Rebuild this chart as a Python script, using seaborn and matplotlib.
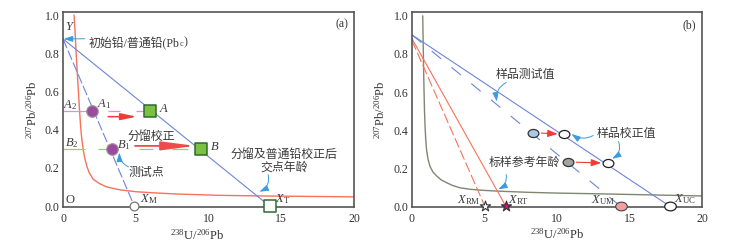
import matplotlib
matplotlib.use("Agg")
import matplotlib.pyplot as plt
import seaborn as sns
from matplotlib.path import Path
from matplotlib.markers import MarkerStyle
from matplotlib.transforms import Affine2D

sns.set_theme(style="white")
plt.rcParams['font.family'] = ['Liberation Serif', 'Noto Sans CJK SC', 'DejaVu Sans']
plt.rcParams['mathtext.fontset'] = 'custom'
plt.rcParams['mathtext.rm'] = 'Liberation Serif'
plt.rcParams['mathtext.it'] = 'Liberation Serif:italic'
plt.rcParams['mathtext.bf'] = 'Liberation Serif:bold'

# ---- panel (a) ----
a_curve_x = [0.76, 0.83, 0.89, 0.97, 1.05, 1.13, 1.21, 1.3, 1.4, 1.5, 1.63, 1.8, 2.08, 2.5,
             3.0, 3.9, 5.0, 6.5, 7.8, 10.8, 13.5, 20.0]
a_curve_y = [1.0, 0.91, 0.82, 0.71, 0.61, 0.51, 0.415, 0.345, 0.29, 0.25, 0.21, 0.175, 0.14, 0.118,
             0.10, 0.085, 0.075, 0.068, 0.063, 0.056, 0.053, 0.048]
a_pbc = 0.875        # common Pb intercept (Y)
a_xt = 14.2          # corrected intercept (X_T)
a_xm = 4.9           # measured intercept (X_M)
a_meas_x = [2.0, 3.35]   # A1, B1
a_meas_y = [0.5, 0.3]
a_corr_x = [6.0, 9.5]    # A, B
a_corr_y = [0.5, 0.3]
a_seg_A = [(0.0, 1.8), (3.1, 3.9), (5.0, 5.8)]
a_seg_B = [(0.0, 1.5), (2.4, 3.0), (5.2, 6.2), (7.5, 8.6)]

# ---- panel (b) ----
b_curve_x = [0.74, 0.76, 0.78, 0.8, 0.83, 0.86, 0.9, 0.95, 1.0, 1.1, 1.24, 1.45, 1.7, 2.0, 2.4,
             2.8, 3.3, 4.0, 5.0, 6.0, 8.0, 10.0, 13.0, 15.5, 20.0]
b_curve_y = [1.0, 0.91, 0.82, 0.72, 0.61, 0.51, 0.42, 0.35, 0.30, 0.25, 0.21, 0.18, 0.16, 0.14, 0.124,
             0.11, 0.098, 0.09, 0.084, 0.08, 0.074, 0.07, 0.066, 0.062, 0.055]
b_pb0_u = 0.90       # sample lines intercept
b_uc = 17.8          # sample corrected intercept
b_um = 14.4          # sample measured intercept
b_pb0_r = 0.88       # reference lines intercept
b_rt = 6.48          # reference true age intercept
b_rm = 5.03          # reference measured intercept
b_meas_x = [8.37, 10.78]
b_meas_y = [0.385, 0.232]
b_meas_c = ['#a9c9e6', '#a3a3a3']
b_corr_x = [10.5, 13.5]
b_corr_y = [0.38, 0.228]

BLUE = '#6f84d6'
RED = '#f5735a'
ANN = '#3b9be0'
TXT = '#3a3a3a'
CJK = 8.6

ellipse = MarkerStyle(Path.unit_circle().transformed(Affine2D().scale(1.0, 0.75)))


def style_axes(ax, tag, ylim):
    ax.set_xlim(0, 20)
    ax.set_ylim(*ylim)
    ax.set_xticks([0, 5, 10, 15, 20])
    ax.set_yticks([0.0, 0.2, 0.4, 0.6, 0.8, 1.0])
    ax.set_yticklabels(['0.0', '0.2', '0.4', '0.6', '0.8', '1.0'])
    ax.tick_params(direction='in', length=3, width=1, color='#555555', labelsize=8.5,
                   labelcolor='#333333', pad=2.5)
    ax.tick_params(axis='x', pad=4)
    for s in ax.spines.values():
        s.set_color('#555555')
        s.set_linewidth(1.2)
    ax.set_xlabel('$^{238}$U/$^{206}$Pb', fontsize=9, color='#333333', labelpad=2)
    ax.set_ylabel('$^{207}$Pb/$^{206}$Pb', fontsize=9, color='#333333', labelpad=4)
    ax.text(19.6, 0.95, tag, fontsize=8.5, ha='right', va='center', color='#333333')


def arrow(ax, start, end, rad=0.0, color=ANN, lw=0.7, head='-|>,head_length=0.45,head_width=0.15'):
    ax.annotate('', xy=end, xytext=start,
                arrowprops=dict(arrowstyle=head, color=color, lw=lw, shrinkA=0, shrinkB=0,
                                connectionstyle=f'arc3,rad={rad}'))


fig = plt.figure(figsize=(7.31, 2.5), dpi=100)
ax1 = fig.add_axes([0.0862, 0.172, 0.398, 0.78])
ax2 = fig.add_axes([0.5636, 0.172, 0.3967, 0.78])

# ================= panel (a) =================
ax = ax1
sns.lineplot(x=a_curve_x, y=a_curve_y, sort=False, estimator=None, color=RED, lw=1.0, ax=ax)
sns.lineplot(x=[0, a_xt], y=[a_pbc, 0], color=BLUE, lw=0.8, ax=ax)
sns.lineplot(x=[0, a_xm], y=[a_pbc, 0], color=BLUE, lw=0.8, ax=ax, linestyle=(0, (9, 2.5)))
for x0, x1 in a_seg_A:
    ax.hlines(a_meas_y[0], x0, x1, color='#c89adb', lw=0.9)
for x0, x1 in a_seg_B:
    ax.hlines(a_meas_y[1], x0, x1, color='#92d36a', lw=0.9)

# fractionation correction arrows
arrow(ax, (3.1, 0.468), (5.06, 0.468), color='#f23a3a', lw=1.1,
      head='-|>,head_length=0.8,head_width=0.17')
arrow(ax, (4.95, 0.315), (9.1, 0.315), color='#f24a4a', lw=1.3,
      head='-|>,head_length=1.7,head_width=0.22')

sns.scatterplot(x=a_meas_x, y=a_meas_y, s=70, color='#9b4a9e', edgecolor='#999999',
                linewidth=0.8, ax=ax, zorder=5)
sns.scatterplot(x=a_corr_x, y=a_corr_y, s=70, marker='s', color='#7bc043', edgecolor='#2e6b2e',
                linewidth=1.1, ax=ax, zorder=5)
sns.scatterplot(x=[a_xt], y=[0], s=70, marker='s', color='white', edgecolor='#2e6b2e',
                linewidth=1.1, ax=ax, zorder=5, clip_on=False)
sns.scatterplot(x=[a_xm], y=[0], s=40, marker='o', color='white', edgecolor='#777777',
                linewidth=0.9, ax=ax, zorder=5, clip_on=False)

ax.text(0.45, 0.935, '$Y$', fontsize=9, ha='center', va='center', color=TXT)
arrow(ax, (1.5, 0.876), (0.05, a_pbc))
t_pbc = ax.text(1.75, 0.85, '初始铅/普通铅(Pb', fontsize=CJK, ha='left', va='center', color=TXT)
ax.annotate('$_\\mathrm{c}$)', xy=(1.0, 0.0), xycoords=t_pbc, fontsize=CJK,
            ha='left', va='bottom', color=TXT)
ax.text(0.5, 0.53, '$A_2$', fontsize=9, ha='center', va='center', color=TXT)
ax.text(2.8, 0.535, '$A_1$', fontsize=9, ha='center', va='center', color=TXT)
ax.text(6.6, 0.51, '$A$', fontsize=9, ha='left', va='center', color=TXT)
ax.text(0.6, 0.33, '$B_2$', fontsize=9, ha='center', va='center', color=TXT)
ax.text(4.15, 0.32, '$B_1$', fontsize=9, ha='center', va='center', color=TXT)
ax.text(10.1, 0.31, '$B$', fontsize=9, ha='left', va='center', color=TXT)
ax.text(6.1, 0.365, '分馏校正', fontsize=CJK, ha='center', va='center', color=TXT)
ax.text(5.7, 0.175, '测试点', fontsize=CJK, ha='center', va='center', color=TXT)
arrow(ax, (4.5, 0.205), (3.87, 0.28), rad=-0.3)
ax.text(15.2, 0.237, '分馏及普通铅校正后\n交点年龄', fontsize=CJK, ha='center', va='center',
        color=TXT, linespacing=1.1)
arrow(ax, (14.1, 0.165), (13.5, 0.075), rad=-0.4)
ax.text(0.48, 0.03, 'O', fontsize=9, ha='center', va='center', color=TXT)
ax.text(5.3, 0.035, '$X_\\mathrm{M}$', fontsize=9, ha='left', va='center', color=TXT)
ax.text(14.55, 0.035, '$X_\\mathrm{T}$', fontsize=9, ha='left', va='center', color=TXT)

style_axes(ax, '(a)', (-0.005, 1.016))
ax.xaxis.set_label_coords(0.46, -0.11)

# ================= panel (b) =================
ax = ax2
sns.lineplot(x=b_curve_x, y=b_curve_y, sort=False, estimator=None, color='#7f8770', lw=1.0, ax=ax)
sns.lineplot(x=[0, b_uc], y=[b_pb0_u, 0], color=BLUE, lw=0.8, ax=ax)
sns.lineplot(x=[0, b_um], y=[b_pb0_u, 0], color=BLUE, lw=0.8, ax=ax, linestyle=(0, (11, 12)))
sns.lineplot(x=[0, b_rt], y=[b_pb0_r, 0], color=RED, lw=0.8, ax=ax)
sns.lineplot(x=[0, b_rm], y=[b_pb0_r - 0.01, 0], color=RED, lw=0.8, ax=ax, linestyle=(0, (9, 3)))

for i in range(2):
    arrow(ax, (b_meas_x[i] + 0.55, b_meas_y[i]), (b_corr_x[i] - 0.45, b_corr_y[i]),
          color='#f23a3a', lw=0.8, head='-|>,head_length=0.5,head_width=0.18')

for i in range(2):
    sns.scatterplot(x=[b_meas_x[i]], y=[b_meas_y[i]], s=60, marker=ellipse, color=b_meas_c[i],
                    edgecolor='#333333', linewidth=0.9, ax=ax, zorder=5)
sns.scatterplot(x=b_corr_x, y=b_corr_y, s=60, marker=ellipse, color='white',
                edgecolor='#222222', linewidth=0.9, ax=ax, zorder=5)
sns.scatterplot(x=[b_um], y=[0], s=70, marker=ellipse, color='#f2a0a0', edgecolor='#444444',
                linewidth=0.8, ax=ax, zorder=5, clip_on=False)
sns.scatterplot(x=[b_uc], y=[0], s=70, marker=ellipse, color='white', edgecolor='#222222',
                linewidth=0.9, ax=ax, zorder=5, clip_on=False)
sns.scatterplot(x=[b_rm], y=[0], s=60, marker='*', color='white', edgecolor='#333333',
                linewidth=0.8, ax=ax, zorder=5, clip_on=False)
sns.scatterplot(x=[b_rt], y=[0], s=60, marker='*', color='#c8147e', edgecolor='#333333',
                linewidth=0.8, ax=ax, zorder=5, clip_on=False)

ax.text(7.85, 0.69, '样品测试值', fontsize=CJK, ha='center', va='center', color=TXT)
arrow(ax, (6.5, 0.65), (5.85, 0.55), rad=0.35)
ax.text(14.8, 0.382, '样品校正值', fontsize=CJK, ha='center', va='center', color=TXT)
arrow(ax, (12.5, 0.372), (11.0, 0.38), rad=-0.3)
arrow(ax, (14.25, 0.34), (13.8, 0.25), rad=-0.4)
ax.text(7.75, 0.228, '标样参考年龄', fontsize=CJK, ha='center', va='center', color=TXT)
arrow(ax, (6.5, 0.167), (5.95, 0.09), rad=-0.35)
ax.text(4.7, 0.035, '$X_\\mathrm{RM}$', fontsize=9, ha='right', va='center', color=TXT)
ax.text(6.6, 0.035, '$X_\\mathrm{RT}$', fontsize=9, ha='left', va='center', color=TXT)
ax.text(14.0, 0.035, '$X_\\mathrm{UM}$', fontsize=9, ha='right', va='center', color=TXT)
ax.text(18.1, 0.04, '$X_\\mathrm{UC}$', fontsize=9, ha='left', va='center', color=TXT)

style_axes(ax, '(b)', (-0.003, 1.02))

fig.savefig('out.png', dpi=100)
